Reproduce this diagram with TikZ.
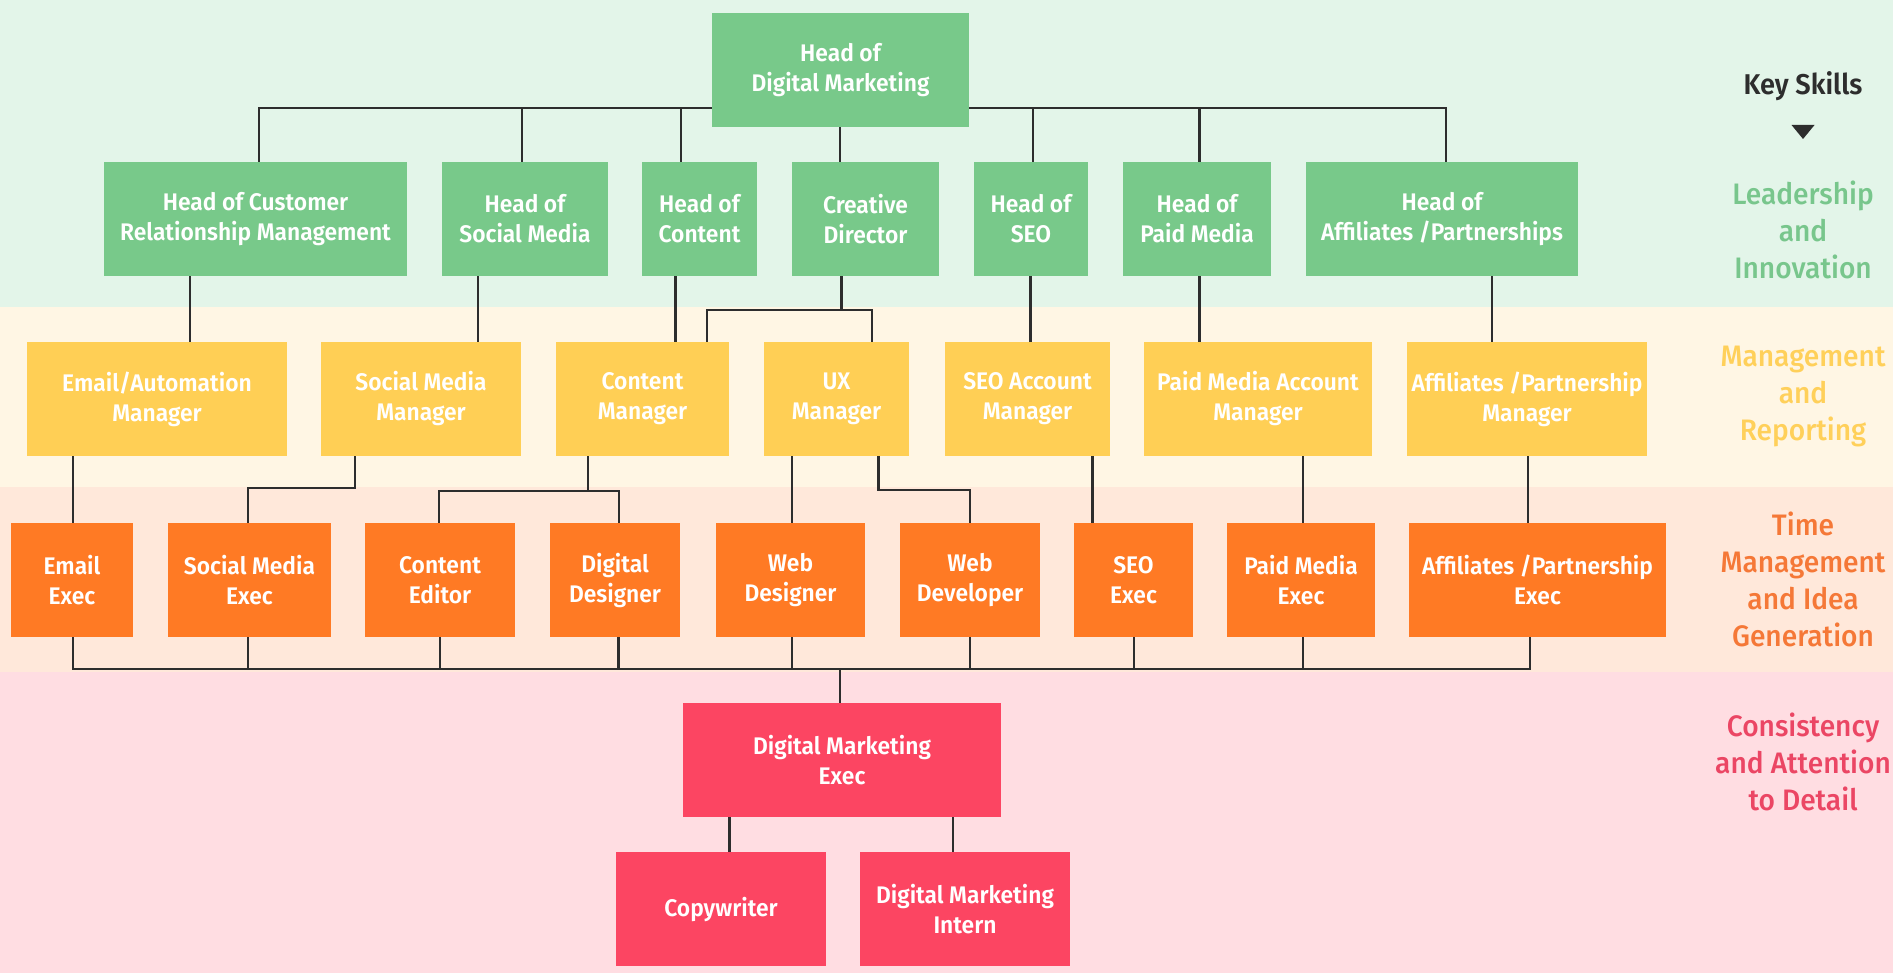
\documentclass[tikz,border=0pt]{standalone}
\usepackage{fontspec}
\setmainfont{Fira Sans}[FakeStretch=0.95, BoldFont={Fira Sans SemiBold}]
\newfontfamily\skillfont{Fira Sans Medium}[FakeStretch=0.95]
\usetikzlibrary{calc}
\definecolor{bgG}{RGB}{227,245,233}
\definecolor{bgY}{RGB}{255,246,228}
\definecolor{bgO}{RGB}{255,232,218}
\definecolor{bgR}{RGB}{255,221,226}
\definecolor{boxG}{RGB}{120,201,138}
\definecolor{boxY}{RGB}{255,207,85}
\definecolor{boxO}{RGB}{255,122,36}
\definecolor{boxR}{RGB}{252,69,98}
\definecolor{lineC}{RGB}{45,45,45}
\definecolor{txG}{RGB}{120,198,140}
\definecolor{txY}{RGB}{255,208,90}
\definecolor{txO}{RGB}{245,120,55}
\definecolor{txR}{RGB}{235,70,100}
\newcommand\orgbox[7]{\node[#2, minimum width={(#5-#3)*0.5pt}, minimum height={(#6-#4)*0.5pt}] (#1) at ({(#3+#5)/2},{(#4+#6)/2}) {#7};}
\begin{document}
\begin{tikzpicture}[x=0.5pt,y=-0.5pt,
  box/.style={rectangle, inner sep=0pt, align=center, text=white, font=\fontsize{12}{15}\selectfont\bfseries},
  gbox/.style={box, fill=boxG},
  ybox/.style={box, fill=boxY},
  obox/.style={box, fill=boxO},
  rbox/.style={box, fill=boxR},
  conn/.style={draw=lineC, line width=1.3pt},
  skill/.style={align=center, font=\skillfont\fontsize{14.8}{18.5}\selectfont, inner sep=0pt},
]
\useasboundingbox (0,0) rectangle (1893,973);
% bands
\fill[bgG] (0,0) rectangle (1893,307);
\fill[bgY] (0,307) rectangle (1893,487);
\fill[bgO] (0,487) rectangle (1893,672);
\fill[bgR] (0,672) rectangle (1893,973);

% boxes
\orgbox{hdm}{gbox}{712}{13}{969}{127}{Head of\\Digital Marketing}
\orgbox{crm}{gbox}{104}{162}{407}{276}{Head of Customer\\Relationship Management}
\orgbox{hsm}{gbox}{442}{162}{608}{276}{Head of\\Social Media}
\orgbox{hc}{gbox}{642}{162}{757}{276}{Head of\\Content}
\orgbox{cd}{gbox}{792}{162}{939}{276}{Creative\\Director}
\orgbox{hseo}{gbox}{974}{162}{1088}{276}{Head of\\SEO}
\orgbox{hpm}{gbox}{1123}{162}{1271}{276}{Head of\\Paid Media}
\orgbox{haff}{gbox}{1306}{162}{1578}{276}{Head of\\Affiliates /Partnerships}

\orgbox{ea}{ybox}{27}{342}{287}{456}{Email/Automation\\Manager}
\orgbox{smm}{ybox}{321}{342}{521}{456}{Social Media\\Manager}
\orgbox{cm}{ybox}{556}{342}{729}{456}{Content\\Manager}
\orgbox{ux}{ybox}{764}{342}{909}{456}{UX\\Manager}
\orgbox{seoam}{ybox}{945}{342}{1110}{456}{SEO Account\\Manager}
\orgbox{pmam}{ybox}{1144}{342}{1372}{456}{Paid Media Account\\Manager}
\orgbox{affm}{ybox}{1407}{342}{1647}{456}{Affiliates /Partnership\\Manager}

\orgbox{emx}{obox}{11}{523}{133}{637}{Email\\Exec}
\orgbox{smx}{obox}{168}{523}{331}{637}{Social Media\\Exec}
\orgbox{ce}{obox}{365}{523}{515}{637}{Content\\Editor}
\orgbox{dd}{obox}{550}{523}{680}{637}{Digital\\Designer}
\orgbox{wd}{obox}{716}{523}{865}{637}{Web\\Designer}
\orgbox{wdev}{obox}{900}{523}{1040}{637}{Web\\Developer}
\orgbox{seox}{obox}{1074}{523}{1193}{637}{SEO\\Exec}
\orgbox{pmx}{obox}{1227}{523}{1375}{637}{Paid Media\\Exec}
\orgbox{affx}{obox}{1409}{523}{1666}{637}{Affiliates /Partnership\\Exec}

\orgbox{dme}{rbox}{683}{703}{1001}{817}{Digital Marketing\\Exec}
\orgbox{cw}{rbox}{616}{852}{826}{966}{Copywriter}
\orgbox{dmi}{rbox}{860}{852}{1070}{966}{Digital Marketing\\Intern}

% level 1 -> 2
\coordinate (t1) at (259,108);
\coordinate (t2) at (522,108);
\coordinate (t3) at (681,108);
\coordinate (t4) at (840,108);
\coordinate (t5) at (1033,108);
\coordinate (t6) at (1199.5,108);
\coordinate (t7) at (1446,108);
\draw[conn] (hdm.west |- t1) -- (t1) -- (t1 |- crm.north);
\draw[conn] (t2) -- (t2 |- hsm.north);
\draw[conn] (t3) -- (t3 |- hc.north);
\draw[conn] (hdm.south -| t4) -- (cd.north -| t4);
\draw[conn] (hdm.east |- t7) -- (t7) -- (t7 |- haff.north);
\draw[conn] (t5) -- (t5 |- hseo.north);
\draw[conn] (t6) -- (t6 |- hpm.north);

% level 2 -> 3
\coordinate (k1) at (190,0);
\coordinate (k2) at (478,0);
\coordinate (k3) at (675.5,0);
\coordinate (k4) at (841.5,310);
\coordinate (j1) at (707,310);
\coordinate (j2) at (872,310);
\coordinate (k5) at (1030.6,0);
\coordinate (k6) at (1199.5,0);
\coordinate (k7) at (1492,0);
\draw[conn] (crm.south -| k1) -- (ea.north -| k1);
\draw[conn] (hsm.south -| k2) -- (smm.north -| k2);
\draw[conn] (hc.south -| k3) -- (cm.north -| k3);
\draw[conn] (cd.south -| k4) -- (k4);
\draw[conn] (cm.north -| j1) -- (j1) -- (j2) -- (ux.north -| j2);
\draw[conn] (hseo.south -| k5) -- (seoam.north -| k5);
\draw[conn] (hpm.south -| k6) -- (pmam.north -| k6);
\draw[conn] (haff.south -| k7) -- (affm.north -| k7);

% level 3 -> 4
\coordinate (m1) at (73,0);
\coordinate (s1) at (355,488);
\coordinate (s2) at (248,488);
\coordinate (c0) at (588,491);
\coordinate (c1) at (439,491);
\coordinate (c2) at (619,491);
\coordinate (u1) at (792,0);
\coordinate (u2) at (878.5,490);
\coordinate (u3) at (970,490);
\coordinate (m5) at (1092.5,0);
\coordinate (m6) at (1303,0);
\coordinate (m7) at (1528,0);
\draw[conn] (ea.south -| m1) -- (emx.north -| m1);
\draw[conn] (smm.south -| s1) -- (s1) -- (s2) -- (smx.north -| s2);
\draw[conn] (cm.south -| c0) -- (c0);
\draw[conn] (ce.north -| c1) -- (c1) -- (c2) -- (dd.north -| c2);
\draw[conn] (ux.south -| u1) -- (wd.north -| u1);
\draw[conn] (ux.south -| u2) -- (u2) -- (u3) -- (wdev.north -| u3);
\draw[conn] (seoam.south -| m5) -- (seox.north -| m5);
\draw[conn] (pmam.south -| m6) -- (pmx.north -| m6);
\draw[conn] (affm.south -| m7) -- (affx.north -| m7);

% level 4 -> 5
\coordinate (b1) at (73,669);
\coordinate (b2) at (248,669);
\coordinate (b3) at (440,669);
\coordinate (b4) at (618.6,669);
\coordinate (b5) at (792,669);
\coordinate (b6) at (970,669);
\coordinate (b7) at (1134,669);
\coordinate (b8) at (1303,669);
\coordinate (b9) at (1530,669);
\coordinate (bm) at (840,669);
\draw[conn] (emx.south -| b1) -- (b1) -- (b9) -- (affx.south -| b9);
\draw[conn] (smx.south -| b2) -- (b2);
\draw[conn] (ce.south -| b3) -- (b3);
\draw[conn] (dd.south -| b4) -- (b4);
\draw[conn] (wd.south -| b5) -- (b5);
\draw[conn] (wdev.south -| b6) -- (b6);
\draw[conn] (seox.south -| b7) -- (b7);
\draw[conn] (pmx.south -| b8) -- (b8);
\draw[conn] (bm) -- (dme.north -| bm);

% level 5 -> 6
\coordinate (q1) at (729.5,0);
\coordinate (q2) at (953,0);
\draw[conn] (dme.south -| q1) -- (cw.north -| q1);
\draw[conn] (dme.south -| q2) -- (dmi.north -| q2);

% key skills column
\node[font=\fontsize{14.3}{18}\selectfont\bfseries, text={rgb,255:red,45;green,45;blue,45}, inner sep=0pt] (ks) at (1803,86) {Key Skills};
\fill[lineC] (1791.5,125) -- (1814.5,125) -- (1803,139) -- cycle;
\node[skill, text=txG] (sk1) at (1803,230) {Leadership\\and\\Innovation};
\node[skill, text=txY] (sk2) at (1803,396) {Management\\and\\Reporting};
\node[skill, text=txO] (sk3) at (1803,579) {Time\\Management\\and Idea\\Generation};
\node[skill, text=txR] (sk4) at (1803,762) {Consistency\\and Attention\\to Detail};
\end{tikzpicture}
\end{document}
